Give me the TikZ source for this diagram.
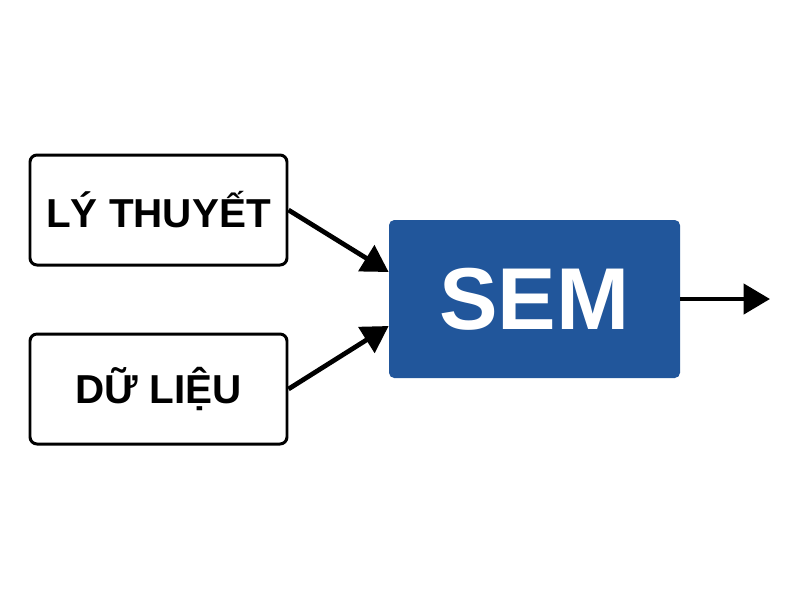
\documentclass[tikz,border=0pt]{standalone}
\usepackage{fontspec}
\setmainfont{Liberation Sans}
\usetikzlibrary{arrows.meta,positioning}
\definecolor{semblue}{HTML}{21569B}
\tikzset{
  inbox/.style={draw=black, line width=1.7pt, rounded corners=4pt, fill=white,
    minimum width=257*0.02cm, minimum height=110*0.02cm,
    font=\bfseries\fontsize{23}{27}\selectfont},
  sembox/.style={fill=semblue, rounded corners=3pt, text=white,
    minimum width=291*0.02cm, minimum height=158*0.02cm,
    font=\bfseries\fontsize{50}{56}\selectfont},
  flow/.style={line width=2.7pt, -{Triangle[length=15pt,width=17pt]}}
}
\begin{document}
\begin{tikzpicture}[x=0.02cm, y=-0.02cm]
\useasboundingbox (0,0) rectangle (800,600);
\node[inbox] (theory) at (158.5,210) {LÝ THUYẾT};
\node[inbox] (data) at (158.5,389) {DỮ LIỆU};
\node[sembox] (sem) at (534.5,299) {SEM};
\coordinate (out) at (770,299);
\draw[flow] (theory.east) -- ([yshift=0.54cm]sem.west);
\draw[flow] (data.east) -- ([yshift=-0.54cm]sem.west);
\draw[flow] (sem.east) -- (out);
\end{tikzpicture}
\end{document}
